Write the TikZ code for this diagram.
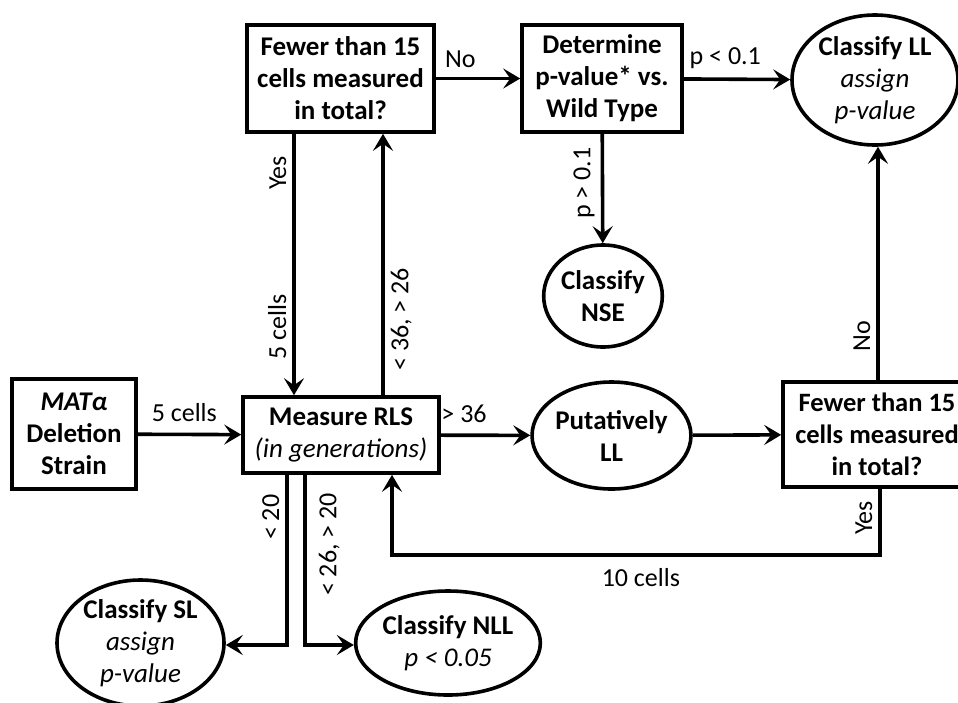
\documentclass[tikz,border=0pt]{standalone}
\usepackage{fontspec}
\setmainfont{Carlito}
\usetikzlibrary{shapes.geometric,arrows.meta}
\begin{document}
\begin{tikzpicture}[x=1pt,y=-1pt,line width=3.6pt,
  box/.style={draw,rectangle,align=center,inner sep=0pt,
    font=\fontsize{27}{32}\selectfont\bfseries},
  oval/.style={draw,ellipse,align=center,inner sep=0pt,
    font=\fontsize{27}{32}\selectfont\bfseries},
  lbl/.style={font=\fontsize{26}{30}\selectfont,inner sep=3pt},
  vlbl/.style={lbl,rotate=90,inner sep=6pt},
  arr/.style={-{Stealth[length=17pt,width=20pt,inset=7pt]}}]
\useasboundingbox (0,0) rectangle (958,702);

% nodes
\node[box,minimum width=187pt,minimum height=107pt] (qa) at (340.5,78.5)
  {Fewer than 15\\cells measured\\in total?};
\node[box,minimum width=160pt,minimum height=107pt] (det) at (602,78.5)
  {Determine\\p-value* vs.\\Wild Type};
\node[oval,minimum width=166pt,minimum height=130pt] (ll) at (875,80)
  {Classify LL\\{\mdseries\itshape assign}\\{\mdseries\itshape p-value}};
\node[oval,minimum width=118pt,minimum height=102pt] (nse) at (603,296)
  {Classify\\NSE};
\node[box,minimum width=124pt,minimum height=110pt] (mat) at (74,434)
  {\itshape MATα\\Deletion\\Strain};
\node[box,minimum width=196pt,minimum height=76pt] (rls) at (341,435)
  {Measure RLS\\{\mdseries\itshape (in generations)}};
\node[oval,minimum width=137pt,minimum height=107pt] (put) at (611.5,435.5)
  {Putatively\\LL};
\node[box,minimum width=188pt,minimum height=105pt,
  font=\fontsize{26.5}{32}\selectfont\bfseries] (qc) at (877,434.5)
  {Fewer than 15\\cells measured\\in total?};
\node[oval,minimum width=167pt,minimum height=126pt] (sl) at (140.5,643)
  {Classify SL\\{\mdseries\itshape assign}\\{\mdseries\itshape p-value}};
\node[oval,minimum width=160pt,minimum height=104pt] (nll) at (448,643)
  {Classify NLL\\{\mdseries\itshape p < 0.05}};

% routing helpers
\coordinate (xa) at (294,0);
\coordinate (xb) at (383,0);
\coordinate (yl) at (0,555);
\coordinate (rx) at (392,0);
\coordinate (xc) at (287,645);
\coordinate (xd) at (305,645);

% connectors
\draw[arr] (mat) -- node[lbl,above=8pt,pos=0.45] (l5c) {5 cells} (rls);
\draw[arr] (rls) -- node[lbl,above=8pt,pos=0.26] (l36) {> 36} (put);
\draw[arr] (put) -- (qc);
\draw[arr] ([xshift=1pt]qc.north) -- node[vlbl,anchor=south,pos=0.19] (lno2) {No} ([xshift=1pt]qc.north |- ll.south);
\draw[arr] ([xshift=3pt]qc.south) -- node[vlbl,anchor=south,pos=0.44] (lyes2) {Yes} ([xshift=3pt]qc.south |- yl)
  -- node[lbl,below=9pt,pos=0.49] (l10) {10 cells} (yl -| rx) -- (rx |- rls.south);
\draw[arr] (qa.south -| xa) -- node[vlbl,anchor=south,pos=0.15] (lyes1) {Yes}
  node[vlbl,anchor=south,pos=0.74] (l5c2) {5 cells} (rls.north -| xa);
\draw[arr] (rls.north -| xb) -- node[vlbl,anchor=north,pos=0.29] (l3626) {< 36, > 26} (qa.south -| xb);
\draw[arr] (qa) -- node[lbl,above=6pt,pos=0.29] (lno1) {No} (det);
\draw[arr] (det) -- node[lbl,above=6pt,pos=0.39] (lp1) {p < 0.1} (ll);
\draw[arr] (det) -- node[vlbl,anchor=south,pos=0.45] (lp2) {p > 0.1} (nse);
\draw[arr] (rls.south -| xc) -- node[vlbl,anchor=south,pos=0.25] (l20) {< 20} (xc) -- (xc -| sl.east);
\draw[arr] (rls.south -| xd) -- node[vlbl,anchor=north,inner sep=12pt,pos=0.41] (l2620) {< 26, > 20} (xd) -- (xd -| nll.west);
\end{tikzpicture}
\end{document}
